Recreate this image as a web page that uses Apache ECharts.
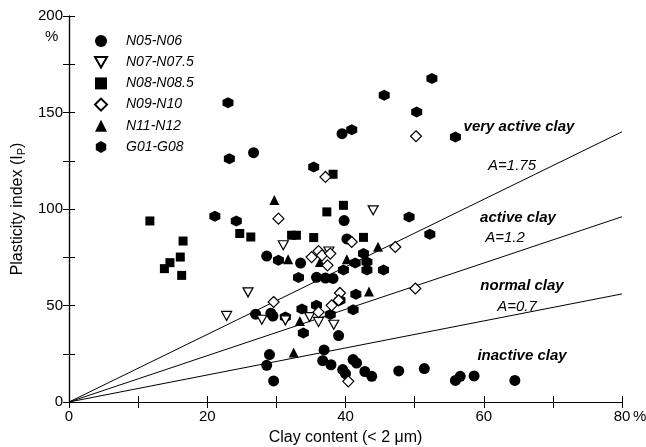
<!DOCTYPE html>
<html>
<head>
<meta charset="utf-8">
<script src="https://cdn.jsdelivr.net/npm/echarts@6/dist/echarts.min.js"></script>
<style>
  html, body { margin: 0; padding: 0; background: #fff; }
  #chart { width: 646px; height: 447px; }
</style>
</head>
<body>
<div id="chart"></div>
<script>
// points: [clay content %, plasticity index %]
var n05n06 = [
  [26.7, 129.2], [39.5, 139.0], [39.8, 94.0], [40.2, 84.5], [28.6, 75.6],
  [33.5, 72.0], [35.8, 64.6], [37.1, 64.2], [38.2, 64.0], [27.0, 45.5],
  [29.2, 46.0], [29.5, 44.5], [28.6, 19.0], [29.0, 24.6], [29.6, 10.9],
  [36.9, 27.0], [36.7, 21.4], [37.9, 19.3], [39.0, 34.4], [39.6, 16.8],
  [40.0, 14.7], [41.1, 22.0], [41.6, 20.2], [42.8, 15.8], [43.8, 13.3],
  [47.7, 16.1], [51.4, 17.3], [55.9, 11.2], [56.6, 13.3], [58.6, 13.5],
  [64.5, 11.2]
];
var n07n075 = [
  [22.8, 44.6], [25.9, 56.8], [27.9, 42.6], [31.3, 42.3], [31.0, 81.2],
  [36.1, 41.5], [38.3, 40.0], [44.0, 99.3], [37.6, 78.0], [34.8, 44.0]
];
var n08n085 = [
  [11.7, 93.8], [13.8, 69.1], [14.6, 72.2], [16.1, 75.1], [16.5, 83.4],
  [16.3, 65.6], [24.7, 87.3], [26.3, 85.5], [32.2, 86.4], [32.9, 86.4],
  [35.4, 85.2], [37.3, 98.5], [38.2, 118.0], [39.7, 101.9], [42.6, 85.3]
];
var n09n10 = [
  [30.3, 95.0], [37.1, 116.6], [50.2, 137.7], [40.9, 82.9], [47.2, 80.3],
  [35.1, 75.1], [36.1, 78.2], [36.6, 76.0], [37.8, 76.9], [37.4, 70.8],
  [29.6, 51.8], [36.1, 46.6], [38.0, 50.1], [39.2, 56.5], [39.0, 52.7],
  [50.1, 58.8], [40.4, 10.7]
];
var n11n12 = [
  [29.7, 104.7], [31.7, 73.9], [36.3, 72.5], [40.2, 73.9], [44.7, 80.5],
  [43.4, 57.2], [33.4, 42.0], [32.5, 25.6]
];
var g01g08 = [
  [23.0, 155.1], [23.2, 126.1], [21.1, 96.2], [24.2, 93.8], [35.4, 121.8],
  [40.9, 141.1], [45.6, 158.9], [50.3, 150.3], [52.5, 167.6], [55.9, 137.3],
  [49.2, 95.9], [52.2, 86.9], [30.3, 73.4], [33.2, 64.5], [31.3, 44.0],
  [33.7, 48.2], [33.9, 35.8], [35.8, 50.1], [37.8, 45.4], [39.7, 68.4],
  [41.4, 72.0], [43.1, 72.5], [42.6, 76.9], [43.1, 68.4], [45.5, 68.4],
  [41.5, 55.8], [39.2, 52.7], [41.1, 47.8]
];
// activity lines Ip = A * clay, from origin to the right edge
var lineA175 = [[0, 0], [80, 140]];
var lineA12 = [[0, 0], [80, 96]];
var lineA07 = [[0, 0], [80, 56]];

var hexPath = 'path://M5,0 L9.33,2.5 L9.33,7.5 L5,10 L0.67,7.5 L0.67,2.5 Z';
var triDown = 'path://M0,0 L10,0 L5,8.66 Z';
var font = 'Liberation Sans, Arial, sans-serif';

function pts(name, data, symbol, size, hollow) {
  return {
    name: name, type: 'scatter', data: data, symbol: symbol, symbolSize: size,
    itemStyle: hollow ? { color: '#fff', borderColor: '#000', borderWidth: 1.2, opacity: 1 }
                      : { color: '#000', opacity: 1 },
    z: hollow ? 4 : 3
  };
}
function aLine(data) {
  return {
    type: 'line', data: data, symbol: 'none', silent: true,
    lineStyle: { color: '#000', width: 1 }, z: 2
  };
}
// region labels and A values
function note(text, x, y, bold) {
  return {
    type: 'text', x: x, y: y,
    style: {
      text: text, fontSize: 15, fontWeight: bold ? 'bold' : 'normal', fontStyle: 'italic',
      fontFamily: font, fill: '#000', align: 'center', verticalAlign: 'middle'
    }
  };
}

var axisCommon = {
  min: 0, axisLine: { lineStyle: { color: '#000', width: 1.2 } },
  splitLine: { show: false },
  axisTick: { inside: true, length: 6, lineStyle: { color: '#000' } }
};

var myChart = echarts.init(document.getElementById('chart'), null, { renderer: 'canvas' });
myChart.setOption({
  animation: false,
  textStyle: { fontFamily: font },
  grid: { left: 69, right: 24, top: 16, bottom: 45, outerBoundsMode: 'none', containLabel: false },
  legend: {
    orient: 'vertical', left: 89, top: 29, itemWidth: 12, itemHeight: 12, itemGap: 7.2,
    textStyle: { fontFamily: font, fontSize: 14, fontStyle: 'italic', color: '#000', padding: [0, 0, 0, 14] },
    data: ['N05-N06', 'N07-N07.5', 'N08-N08.5', 'N09-N10', 'N11-N12', 'G01-G08']
  },
  xAxis: [
    Object.assign({}, axisCommon, {
      type: 'value', max: 80, interval: 10, position: 'bottom',
      name: 'Clay content (< 2 \u03bcm)', nameLocation: 'middle', nameGap: 28,
      nameTextStyle: { fontSize: 16, color: '#000', fontFamily: font },
      axisLabel: {
        color: '#000', fontSize: 15, margin: 7, fontFamily: font,
        formatter: function (v) { return v % 20 === 0 ? String(v) : ''; }
      }
    }),
    Object.assign({}, axisCommon, {
      type: 'value', max: 80, interval: 10, position: 'top',
      axisLabel: { show: false }
    })
  ],
  yAxis: [
    Object.assign({}, axisCommon, {
      type: 'value', max: 200, interval: 25, position: 'left',
      name: 'Plasticity index (I{sub|P})', nameLocation: 'middle', nameGap: 41,
      nameTextStyle: {
        fontSize: 16, color: '#000', fontFamily: font,
        rich: { sub: { fontSize: 11, color: '#000', fontFamily: font, padding: [7, 0, 0, 0] } }
      },
      axisLabel: {
        color: '#000', fontSize: 15, margin: 6, fontFamily: font,
        formatter: function (v) { return v % 50 === 0 ? String(v) : ''; }
      }
    }),
    Object.assign({}, axisCommon, {
      type: 'value', max: 200, interval: 25, position: 'right',
      axisLabel: { show: false }
    })
  ],
  series: [
    aLine(lineA175), aLine(lineA12), aLine(lineA07),
    pts('N05-N06', n05n06, 'circle', 11, false),
    pts('N07-N07.5', n07n075, triDown, [10, 9], true),
    pts('N08-N08.5', n08n085, 'rect', 9, false),
    pts('N09-N10', n09n10, 'diamond', 11, true),
    pts('N11-N12', n11n12, 'triangle', 10, false),
    pts('G01-G08', g01g08, hexPath, 11, false)
  ],
  graphic: [
    { type: 'text', left: 45, top: 29, style: { text: '%', fontSize: 15, fontFamily: font, fill: '#000' } },
    { type: 'text', left: 633, top: 409, style: { text: '%', fontSize: 15, fontFamily: font, fill: '#000' } },
    note('very active clay', 519, 127, true),
    note('A=1.75', 512, 166, false),
    note('active clay', 518, 218, true),
    note('A=1.2', 505, 238, false),
    note('normal clay', 522, 286, true),
    note('A=0.7', 517, 307, false),
    note('inactive clay', 522, 356, true)
  ]
});
</script>
</body>
</html>
